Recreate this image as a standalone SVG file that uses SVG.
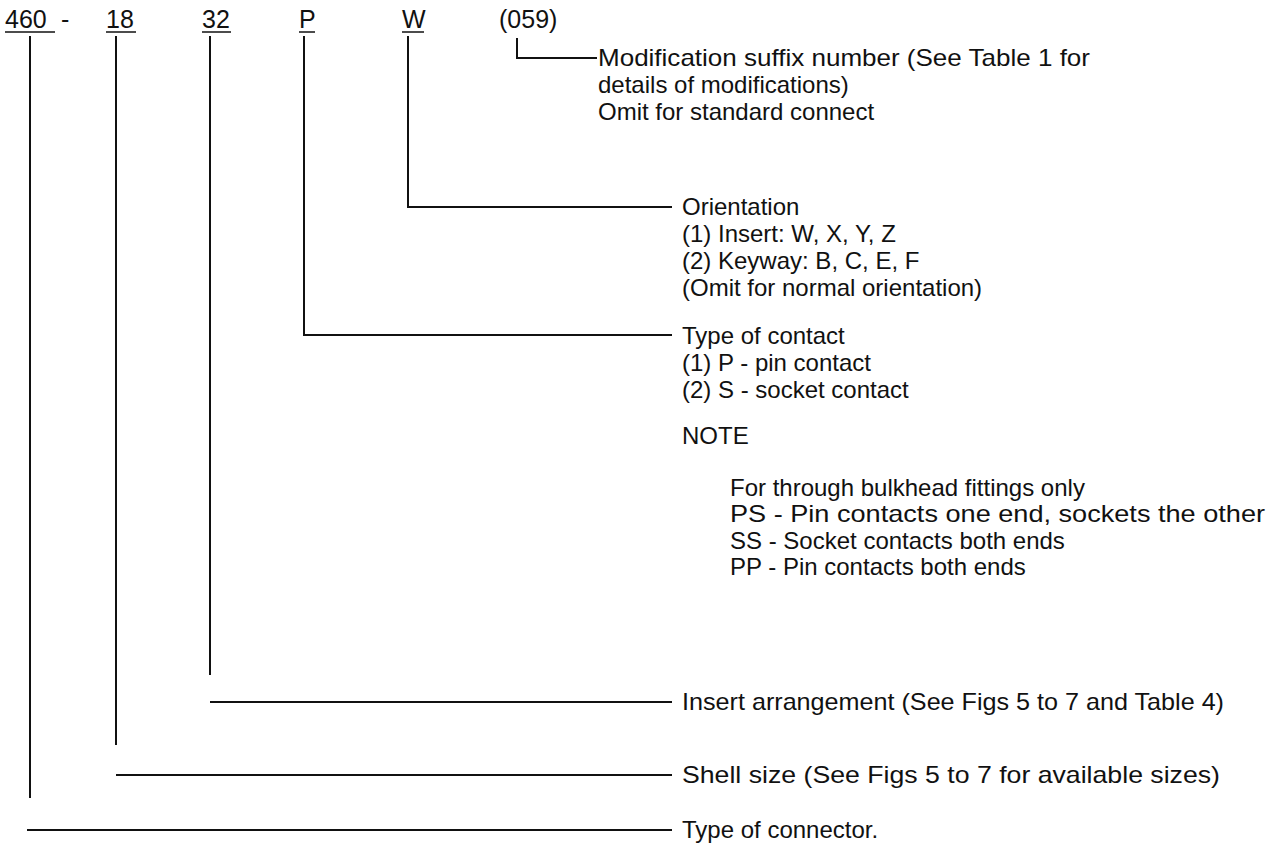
<svg xmlns="http://www.w3.org/2000/svg" width="1268" height="851" viewBox="0 0 1268 851">
<style>
text{font-family:"Liberation Sans",Arial,sans-serif;font-size:24px;fill:#111}
.hd{font-size:25px}
.ln{stroke:#111;stroke-width:2;fill:none}
.ul{stroke:#111;stroke-width:1.5}
</style>
<rect width="1268" height="851" fill="#fff"/>
<g id="header">
<text class="hd" x="5" y="28">460</text><line class="ul" x1="5" y1="32" x2="55" y2="32"/>
<text class="hd" x="61" y="28">-</text>
<text class="hd" x="106" y="28">18</text><line class="ul" x1="106" y1="32" x2="136" y2="32"/>
<text class="hd" x="202" y="28">32</text><line class="ul" x1="202" y1="32" x2="231" y2="32"/>
<text class="hd" x="299" y="28">P</text><line class="ul" x1="299" y1="32" x2="315" y2="32"/>
<text class="hd" x="402" y="28">W</text><line class="ul" x1="402" y1="32" x2="424" y2="32"/>
<text class="hd" x="499" y="28">(059)</text>
</g>
<g id="connectors">
<polyline class="ln" points="517,38 517,58 597,58"/>
<polyline class="ln" points="408,36 408,207 672,207"/>
<polyline class="ln" points="304,36 304,335 672,335"/>
<polyline class="ln" points="210,36 210,675"/>
<line class="ln" x1="210" y1="702" x2="672" y2="702"/>
<polyline class="ln" points="116,36 116,745"/>
<line class="ln" x1="116" y1="775" x2="672" y2="775"/>
<polyline class="ln" points="30,36 30,798"/>
<line class="ln" x1="27" y1="830" x2="672" y2="830"/>
</g>
<g id="modification">
<text x="598" y="66" textLength="492" lengthAdjust="spacingAndGlyphs">Modification suffix number (See Table 1 for</text>
<text x="598" y="93">details of modifications)</text>
<text x="598" y="120">Omit for standard connect</text>
</g>
<g id="orientation">
<text x="682" y="215">Orientation</text>
<text x="682" y="242">(1) Insert: W, X, Y, Z</text>
<text x="682" y="269">(2) Keyway: B, C, E, F</text>
<text x="682" y="296">(Omit for normal orientation)</text>
</g>
<g id="contact">
<text x="682" y="344">Type of contact</text>
<text x="682" y="371">(1) P - pin contact</text>
<text x="682" y="398">(2) S - socket contact</text>
<text x="682" y="444">NOTE</text>
<text x="730" y="496">For through bulkhead fittings only</text>
<text x="730" y="522" textLength="535" lengthAdjust="spacingAndGlyphs">PS - Pin contacts one end, sockets the other</text>
<text x="730" y="549">SS - Socket contacts both ends</text>
<text x="730" y="575">PP - Pin contacts both ends</text>
</g>
<g id="insert">
<text x="682" y="710" textLength="542" lengthAdjust="spacingAndGlyphs">Insert arrangement (See Figs 5 to 7 and Table 4)</text>
</g>
<g id="shell">
<text x="682" y="783" textLength="538" lengthAdjust="spacingAndGlyphs">Shell size (See Figs 5 to 7 for available sizes)</text>
</g>
<g id="type">
<text x="682" y="838">Type of connector.</text>
</g>
</svg>
